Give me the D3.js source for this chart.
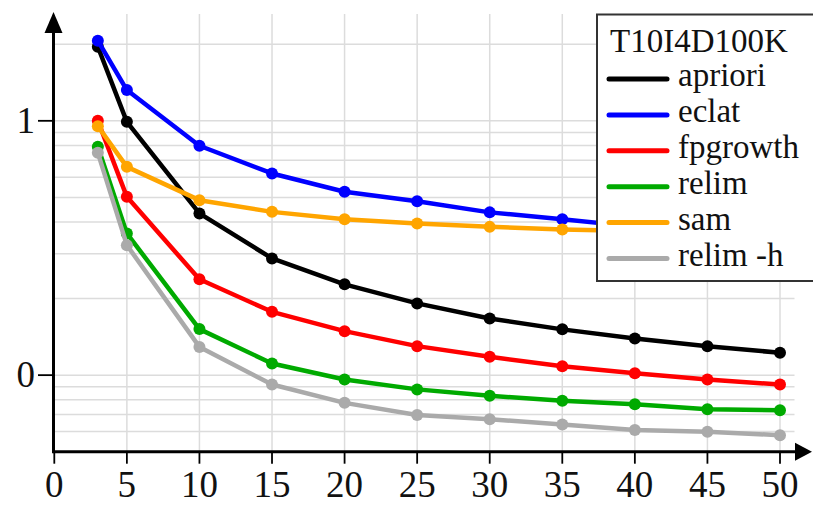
<!DOCTYPE html>
<html>
<head>
<meta charset="utf-8">
<script src="https://cdn.jsdelivr.net/npm/d3@7"></script>
<style>
  html, body { margin: 0; padding: 0; background: #fff; }
  svg { display: block; }
</style>
</head>
<body>
<svg id="chart" width="813" height="506"></svg>
<script>
// Minimum support (%) on the x axis
const support = [3, 5, 10, 15, 20, 25, 30, 35, 40, 45, 50];

// log10 of execution time (seconds) for each algorithm
const apriori  = [1.291, 0.996, 0.636, 0.459, 0.357, 0.282, 0.223, 0.180, 0.144, 0.114, 0.088];
const eclat    = [1.315, 1.121, 0.902, 0.793, 0.721, 0.684, 0.640, 0.613, 0.584, 0.566, 0.550];
const fpgrowth = [1.000, 0.701, 0.377, 0.249, 0.173, 0.114, 0.072, 0.035, 0.007, -0.017, -0.037];
const relim    = [0.898, 0.557, 0.181, 0.046, -0.017, -0.056, -0.081, -0.101, -0.114, -0.134, -0.138];
const sam      = [0.979, 0.819, 0.688, 0.642, 0.613, 0.596, 0.583, 0.573, 0.567, 0.560, 0.554];
const relimH   = [0.874, 0.511, 0.111, -0.037, -0.109, -0.157, -0.173, -0.194, -0.216, -0.223, -0.236];

const seriesNames  = ["apriori", "eclat", "fpgrowth", "relim", "sam", "relim -h"];
const seriesValues = [apriori, eclat, fpgrowth, relim, sam, relimH];
const seriesColors = ["#000000", "#0000ff", "#ff0000", "#00aa00", "#ffa500", "#aaaaaa"];

const legendTitle = "T10I4D100K";
const xTicks = [0, 5, 10, 15, 20, 25, 30, 35, 40, 45, 50];
const yTicks = [0, 1];
// grid lines at 0.6 ... 0.9, 1 ... 9, 10, 20 seconds
const gridSeconds = [0.6, 0.7, 0.8, 0.9, 1, 2, 3, 4, 5, 6, 7, 8, 9, 10, 20];

const FONT = "'Liberation Serif', 'Times New Roman', Times, 'DejaVu Serif', serif";
const TEXT_COLOR = "#111";

const svg = d3.select("#chart");

const x = d3.scaleLinear().domain([0, 50]).range([54.3, 780]);
const y = d3.scaleLinear().domain([Math.log10(0.5), 1.42]).range([451.7, 14]);

const gridColor = "#dcdcdc";
const xMaxGrid = 51;

// grid
const grid = svg.append("g");
grid.selectAll("line.h").data(gridSeconds).join("line")
  .attr("x1", x(0)).attr("x2", x(xMaxGrid))
  .attr("y1", d => y(Math.log10(d))).attr("y2", d => y(Math.log10(d)))
  .attr("stroke", gridColor).attr("stroke-width", 1.5);
grid.selectAll("line.v").data(xTicks.filter(d => d > 0)).join("line")
  .attr("x1", d => x(d)).attr("x2", d => x(d))
  .attr("y1", y.range()[0]).attr("y2", y.range()[1])
  .attr("stroke", gridColor).attr("stroke-width", 1.5);

// series
const line = d3.line().x((d, i) => x(support[i])).y(d => y(d));
seriesValues.forEach((vals, k) => {
  const g = svg.append("g");
  g.append("path").datum(vals)
    .attr("d", line)
    .attr("fill", "none")
    .attr("stroke", seriesColors[k])
    .attr("stroke-width", 4.5)
    .attr("stroke-linejoin", "round");
  g.selectAll("circle").data(vals).join("circle")
    .attr("cx", (d, i) => x(support[i]))
    .attr("cy", d => y(d))
    .attr("r", 6)
    .attr("fill", seriesColors[k]);
});

// axes
const axisG = svg.append("g");
const x0 = x(0) - 0.8, yBase = y.range()[0];
axisG.append("line").attr("x1", x0).attr("x2", 796).attr("y1", yBase).attr("y2", yBase)
  .attr("stroke", "#000").attr("stroke-width", 3);
axisG.append("path").attr("d", `M812,${yBase} L795,${yBase - 9} L795,${yBase + 9} Z`).attr("fill", "#000");
axisG.append("line").attr("x1", x0).attr("x2", x0).attr("y1", yBase + 1.5).attr("y2", 32)
  .attr("stroke", "#000").attr("stroke-width", 3);
axisG.append("path").attr("d", `M${x0},12 L${x0 - 9},33 L${x0 + 9},33 Z`).attr("fill", "#000");

// x ticks and labels
axisG.selectAll("line.xt").data(xTicks).join("line")
  .attr("x1", d => x(d)).attr("x2", d => x(d))
  .attr("y1", yBase).attr("y2", yBase + 12)
  .attr("stroke", "#000").attr("stroke-width", 1.8);
axisG.selectAll("text.xl").data(xTicks).join("text")
  .attr("x", d => x(d)).attr("y", 497)
  .attr("text-anchor", "middle")
  .attr("font-family", FONT).attr("fill", TEXT_COLOR)
  .attr("font-size", 37)
  .text(d => d);

// y ticks and labels
axisG.selectAll("line.yt").data(yTicks).join("line")
  .attr("x1", 38).attr("x2", x0)
  .attr("y1", d => y(d)).attr("y2", d => y(d))
  .attr("stroke", "#000").attr("stroke-width", 1.8);
axisG.selectAll("text.yl").data(yTicks).join("text")
  .attr("x", 35).attr("y", d => y(d) + 12)
  .attr("text-anchor", "end")
  .attr("font-family", FONT).attr("fill", TEXT_COLOR)
  .attr("font-size", 37)
  .text(d => d);

// legend
const lg = svg.append("g");
lg.append("rect").attr("x", 597).attr("y", 14.5).attr("width", 230).attr("height", 266.5)
  .attr("fill", "#fff").attr("stroke", "#333").attr("stroke-width", 2);
lg.append("text").attr("x", 610).attr("y", 51.5)
  .attr("font-family", FONT).attr("fill", TEXT_COLOR)
  .attr("font-size", 33).text(legendTitle);
seriesNames.forEach((name, k) => {
  const cy = 79 + k * 35.9;
  lg.append("line").attr("x1", 609).attr("x2", 667).attr("y1", cy).attr("y2", cy)
    .attr("stroke", seriesColors[k]).attr("stroke-width", 5).attr("stroke-linecap", "round");
  lg.append("text").attr("x", 678).attr("y", cy + 7)
    .attr("font-family", FONT).attr("fill", TEXT_COLOR)
    .attr("font-size", 33).text(name);
});
</script>
</body>
</html>
